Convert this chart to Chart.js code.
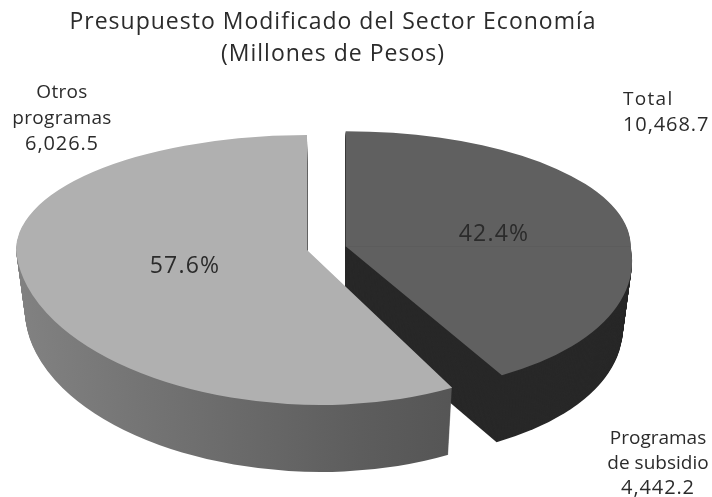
<!DOCTYPE html>
<html>
<head>
<meta charset="utf-8">
<script src="https://cdn.jsdelivr.net/npm/chart.js@4/dist/chart.umd.min.js"></script>
<style>
  html, body { margin: 0; padding: 0; background: #fff; }
  canvas { display: block; }
</style>
</head>
<body>
<canvas id="pie" width="712" height="497"></canvas>
<script>
/******* data *******/
const categories = ["Programas de subsidio", "Otros programas"];
const amounts = [4442.2, 6026.5];
const percents = ["42.4%", "57.6%"];
const totalLines = ["Total", "10,468.7"];
const titleLines = ["Presupuesto Modificado del Sector Economía", "(Millones de Pesos)"];
const subsidyLines = ["Programas", "de subsidio", "4,442.2"];
const otherLines = ["Otros", "programas", "6,026.5"];

/******* look of the fake 3d pie *******/
const FONT = '"Open Sans", sans-serif';
const INK = "#2b2b2b";
const topColors = ["#606060", "#b0b0b0"];
const pieX = 307, pieY = 250;      // where the un-exploded apex lands
const spanUp = 115;                // screen radius upwards
const spanX = [285, 291];          // screen radius left/right, per slice
const spanDown = [145, 155];       // screen radius downwards, per slice
const lean = [0.2, 0.087];         // perspective shear of the near half, per slice
const depth = 67, narrow = 0.03, vanishX = 325;

// draws one slice with a different flattening above and below its apex
function paintSlice(chart, arc, i, drop, fill) {
  const ctx = chart.ctx;
  const R = arc.outerRadius;
  const sx = spanX[i] / R, up = spanUp / R, down = spanDown[i] / R;
  const half = (arc.startAngle + arc.endAngle) / 2;
  const off = arc.options.offset / 4;
  const apexX = pieX + Math.cos(half) * off * sx;
  const apexY = pieY + Math.sin(half) * off * up;
  const shrink = 1 - narrow * drop / depth;

  const ghost = Object.create(arc);
  const opts = Object.create(arc.options);
  opts.offset = 0;
  opts.borderWidth = 0;
  opts.backgroundColor = fill;
  ghost.options = opts;

  [[up, 0, -1000, apexY + drop + 0.5 + 1000], [down, lean[i] * down, apexY + drop, 1000]].forEach(p => {
    ctx.save();
    ctx.beginPath();
    ctx.rect(0, p[2], chart.width, p[3]);
    ctx.clip();
    ctx.translate(vanishX, 0);
    ctx.scale(shrink, 1);
    ctx.translate(-vanishX, 0);
    ctx.transform(sx, 0, p[1], p[0],
      apexX - sx * arc.x - p[1] * arc.y,
      apexY + drop - p[0] * arc.y);
    ghost.draw(ctx);
    ctx.restore();
  });
}

function wallFill(ctx, i) {
  if (i === 0) return "#282828";
  const g = ctx.createLinearGradient(16, 0, 452, 0);
  g.addColorStop(0, "#9a9a9a");
  g.addColorStop(0.25, "#8a8a8a");
  g.addColorStop(0.5, "#747474");
  g.addColorStop(0.78, "#5d5d5d");
  g.addColorStop(1, "#4f4f4f");
  return g;
}

// block of text, the last line (the amount) gets wider spacing like the original
function textBlock(ctx, lines, x, y, step, wordGap) {
  lines.forEach((t, i) => {
    const isAmount = i === lines.length - 1;
    ctx.font = (isAmount ? "20px " : "19px ") + FONT;
    ctx.letterSpacing = (isAmount ? 0.9 : wordGap) + "px";
    ctx.fillText(t, x, y + i * step);
  });
}

const pie3d = {
  id: "pie3d",
  beforeDatasetsDraw(chart) {
    const arcs = chart.getDatasetMeta(0).data;
    // subsidy slice sits behind the tip of the other one
    [0, 1].forEach(i => {
      const fill = wallFill(chart.ctx, i);
      for (let d = depth; d > 0; d--) paintSlice(chart, arcs[i], i, d, fill);
      paintSlice(chart, arcs[i], i, 0, topColors[i]);
    });
    return false;
  },
  afterDraw(chart) {
    const ctx = chart.ctx;
    ctx.save();
    ctx.fillStyle = INK;
    ctx.textBaseline = "middle";
    ctx.textAlign = "center";
    textBlock(ctx, otherLines, 62, 93, 25.5, 0.3);
    textBlock(ctx, subsidyLines, 658, 439, 24.5, 0);
    ctx.textAlign = "left";
    textBlock(ctx, totalLines, 623, 100, 25, 1.3);
    ctx.font = "23px " + FONT;
    ctx.letterSpacing = "1.2px";
    ctx.textAlign = "center";
    ctx.fillText(percents[0], 494, 234);
    ctx.fillText(percents[1], 185, 266);
    ctx.restore();
  }
};

const chart = new Chart(document.getElementById("pie"), {
  type: "pie",
  data: {
    labels: categories,
    datasets: [{ data: amounts, backgroundColor: topColors, borderWidth: 0, offset: [91, 0] }]
  },
  options: {
    responsive: false,
    animation: false,
    events: [],
    layout: { padding: { right: 46 } },
    plugins: {
      legend: { display: false },
      tooltip: { enabled: false },
      title: {
        display: true,
        text: titleLines,
        color: INK,
        font: { family: FONT, size: 23, weight: "normal", lineHeight: 1.39 },
        padding: { top: 6, bottom: 10 }
      }
    }
  },
  plugins: [pie3d, {
    id: "titleSpacing",
    beforeDraw(c) { c.ctx.letterSpacing = "1px"; }
  }]
});
</script>
</body>
</html>
